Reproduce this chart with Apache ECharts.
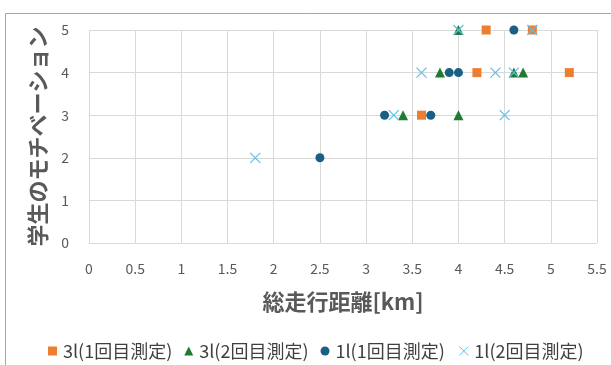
<!DOCTYPE html>
<html>
<head>
<meta charset="utf-8">
<script src="https://cdn.jsdelivr.net/npm/echarts@6/dist/echarts.min.js"></script>
<style>
html,body{margin:0;padding:0;background:#fff;}
#chart{width:611px;height:365px;}
</style>
</head>
<body>
<div id="chart"></div>
<script>
// Distance travelled (km) vs. student motivation score
var seriesNames = ['3l(1回目測定)', '3l(2回目測定)', '1l(1回目測定)', '1l(2回目測定)'];
var distance3l1 = [4.3, 4.8, 4.2, 5.2, 3.6];
var motivation3l1 = [5, 5, 4, 4, 3];
var distance3l2 = [4.0, 3.8, 4.6, 4.7, 3.4, 4.0];
var motivation3l2 = [5, 4, 4, 4, 3, 3];
var distance1l1 = [4.6, 3.9, 4.0, 3.2, 3.7, 2.5];
var motivation1l1 = [5, 4, 4, 3, 3, 2];
var distance1l2 = [4.0, 4.8, 3.6, 4.4, 4.6, 3.3, 4.5, 1.8];
var motivation1l2 = [5, 5, 4, 4, 4, 3, 3, 2];
var xTicks = [0, 0.5, 1, 1.5, 2, 2.5, 3, 3.5, 4, 4.5, 5, 5.5];

function pairs(xs, ys) {
  return xs.map(function (x, i) { return [x, ys[i]]; });
}

var font = '"Noto Sans CJK JP", "Noto Sans", sans-serif';
var crossPath = 'path://M0,0L10,10M10,0L0,10';

var chart = echarts.init(document.getElementById('chart'), null, {renderer: 'canvas'});
chart.setOption({
  animation: false,
  backgroundColor: '#fff',
  graphic: [{
    type: 'rect',
    shape: {x: 5.5, y: 13.5, width: 700, height: 400},
    style: {fill: 'none', stroke: '#a6a6a6', lineWidth: 1},
    silent: true
  }],
  grid: {left: 89, right: 14, top: 30, bottom: 122, containLabel: false},
  xAxis: {
    type: 'value', min: 0, max: 5.5, interval: 0.5,
    name: '総走行距離[km]', nameLocation: 'middle', nameGap: 48,
    nameTextStyle: {fontFamily: font, fontSize: 22, fontWeight: 'bold', color: '#595959'},
    axisLine: {show: false}, axisTick: {show: false},
    axisLabel: {
      fontFamily: font, fontSize: 14, color: '#595959', margin: 19,
      formatter: function (v) {
        var t = xTicks.find(function (k) { return Math.abs(k - v) < 1e-9; });
        return t === undefined ? '' : String(t);
      }
    },
    splitLine: {show: true, lineStyle: {color: '#d9d9d9', width: 1}}
  },
  yAxis: {
    type: 'value', min: 0, max: 5, interval: 1,
    name: '学生のモチベーション', nameLocation: 'middle', nameGap: 40,
    nameTextStyle: {fontFamily: font, fontSize: 22, fontWeight: 'bold', color: '#595959'},
    axisLine: {show: false}, axisTick: {show: false},
    axisLabel: {fontFamily: font, fontSize: 14, color: '#595959', margin: 20},
    splitLine: {show: true, lineStyle: {color: '#d9d9d9', width: 1}}
  },
  legend: {
    top: 337, left: 43, itemGap: 12, itemWidth: 9, itemHeight: 9,
    textStyle: {fontFamily: font, fontSize: 18, color: '#404040', padding: [0, 0, 0, 1]},
    data: [
      {name: seriesNames[0], icon: 'rect'},
      {name: seriesNames[1], icon: 'triangle'},
      {name: seriesNames[2], icon: 'circle'},
      {name: seriesNames[3], icon: crossPath, itemStyle: {color: 'none', borderColor: '#5bc0ea', borderWidth: 1}}
    ]
  },
  series: [
    {name: seriesNames[0], type: 'scatter', data: pairs(distance3l1, motivation3l1),
     symbol: 'rect', symbolSize: 9, itemStyle: {color: '#ed7d31', opacity: 1}},
    {name: seriesNames[1], type: 'scatter', data: pairs(distance3l2, motivation3l2),
     symbol: 'triangle', symbolSize: 10, itemStyle: {color: '#217a32', opacity: 1}},
    {name: seriesNames[2], type: 'scatter', data: pairs(distance1l1, motivation1l1),
     symbol: 'circle', symbolSize: 9, itemStyle: {color: '#1a5f86', opacity: 1}},
    {name: seriesNames[3], type: 'scatter', data: pairs(distance1l2, motivation1l2),
     symbol: crossPath, symbolSize: 10,
     itemStyle: {color: 'none', borderColor: '#5bc0ea', borderWidth: 1.2, opacity: 1}}
  ]
});
</script>
</body>
</html>
